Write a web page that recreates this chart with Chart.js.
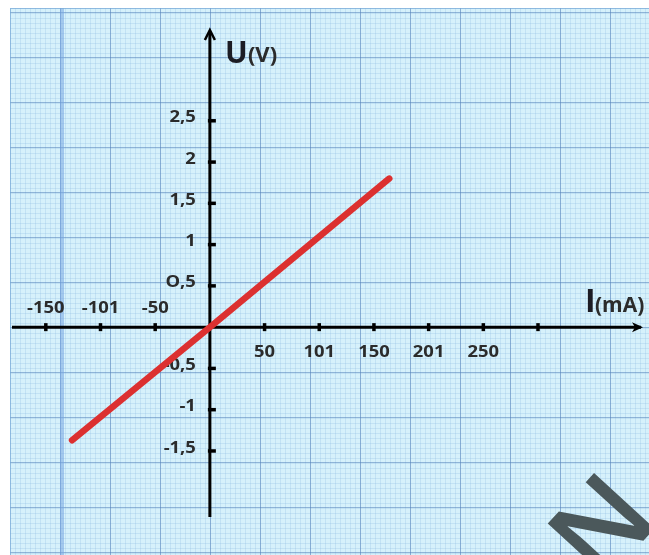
<!DOCTYPE html>
<html>
<head>
<meta charset="utf-8">
<script src="https://cdn.jsdelivr.net/npm/chart.js@4"></script>
<style>
  html, body { margin: 0; padding: 0; background: #fff; }
  canvas { display: block; }
</style>
</head>
<body>
<canvas id="uiChart" width="649" height="555"></canvas>
<script>
// I (mA) vs U (V) measured on the resistor
const currentMA = [-126, 0, 164];
const voltageV = [-1.37, 0, 1.8];

// graduations drawn on the axes
const xTicks = [-150, -100, -50, 50, 100, 150, 200, 250, 300];
const xTickText = ['-150', '-101', '-50', '50', '101', '150', '201', '250', ''];
const yTicks = [2.5, 2, 1.5, 1, 0.5, -0.5, -1, -1.5];
const yTickText = ['2,5', '2', '1,5', '1', 'O,5', '-0,5', '-1', '-1,5'];

const labelFont = '700 16px "Open Sans"';
const labelColor = '#2b2b2b';

// millimetre paper behind everything
const paperPlugin = {
  id: 'paper',
  beforeDraw(chart) {
    const ctx = chart.ctx;
    const W = chart.width, H = chart.height;
    const x0 = 10, y0 = 8;
    ctx.save();
    ctx.fillStyle = '#fff';
    ctx.fillRect(0, 0, W, H);
    ctx.fillStyle = '#d6f1fb';
    ctx.fillRect(x0, y0, W - x0, H - y0);

    ctx.lineWidth = 1;
    ctx.strokeStyle = 'rgba(135,185,225,0.25)';
    ctx.beginPath();
    for (let x = x0 + 0.5; x < W; x += 5) { ctx.moveTo(x, y0); ctx.lineTo(x, H); }
    for (let y = y0 + 0.5; y < H; y += 5) { ctx.moveTo(x0, y); ctx.lineTo(W, y); }
    ctx.stroke();

    ctx.strokeStyle = 'rgba(85,130,185,0.55)';
    ctx.beginPath();
    for (let x = 60.5; x < W; x += 50) { ctx.moveTo(x, y0); ctx.lineTo(x, H); }
    for (let y = 12.5; y < H; y += 45) { ctx.moveTo(x0, y); ctx.lineTo(W, y); }
    ctx.stroke();

    // thick blue rule near the left edge
    ctx.fillStyle = 'rgba(120,165,225,0.55)';
    ctx.fillRect(60, y0, 4, H - y0);

    // paper border
    ctx.strokeStyle = 'rgba(120,170,215,0.7)';
    ctx.strokeRect(x0 + 0.5, y0 + 0.5, W - x0, H - y0);
    ctx.restore();
  }
};

// axes through the origin, graduations and titles
const axesPlugin = {
  id: 'axes',
  beforeDatasetsDraw(chart) {
    const { ctx, chartArea: area, scales: { x, y } } = chart;
    const ox = x.getPixelForValue(0);
    const oy = y.getPixelForValue(0);
    ctx.save();
    ctx.strokeStyle = '#000';
    ctx.fillStyle = '#000';
    ctx.lineWidth = 3;
    ctx.lineCap = 'butt';

    // horizontal axis + arrow
    ctx.beginPath();
    ctx.moveTo(area.left - 1, oy);
    ctx.lineTo(area.right - 2, oy);
    ctx.stroke();
    ctx.beginPath();
    ctx.moveTo(area.right - 11, oy - 5);
    ctx.lineTo(area.right, oy);
    ctx.lineTo(area.right - 11, oy + 5);
    ctx.lineTo(area.right - 8, oy);
    ctx.closePath();
    ctx.fill();

    // vertical axis + arrow
    ctx.beginPath();
    ctx.moveTo(ox, area.bottom);
    ctx.lineTo(ox, area.top + 2);
    ctx.stroke();
    ctx.lineWidth = 2.5;
    ctx.beginPath();
    ctx.moveTo(ox - 5, area.top + 10);
    ctx.lineTo(ox, area.top);
    ctx.lineTo(ox + 5, area.top + 10);
    ctx.stroke();

    // graduations
    ctx.lineWidth = 3.5;
    xTicks.forEach(v => {
      const px = x.getPixelForValue(v);
      ctx.beginPath();
      ctx.moveTo(px, oy - 4);
      ctx.lineTo(px, oy + 4);
      ctx.stroke();
    });
    yTicks.forEach(v => {
      const py = y.getPixelForValue(v);
      ctx.beginPath();
      ctx.moveTo(ox - 2, py);
      ctx.lineTo(ox + 6, py);
      ctx.stroke();
    });

    // tick labels: negatives above the I axis, positives below
    ctx.font = labelFont;
    ctx.fillStyle = labelColor;
    ctx.textBaseline = 'middle';
    ctx.textAlign = 'center';
    xTicks.forEach((v, i) => {
      const px = x.getPixelForValue(v);
      const py = v < 0 ? oy - 19 : oy + 25;
      ctx.save();
      ctx.translate(px, py);
      ctx.scale(1.15, 1);
      ctx.fillText(xTickText[i], 0, 0);
      ctx.restore();
    });
    ctx.textAlign = 'right';
    yTicks.forEach((v, i) => {
      const py = y.getPixelForValue(v);
      ctx.save();
      ctx.translate(ox - 14, py - 3);
      ctx.scale(1.15, 1);
      ctx.fillText(yTickText[i], 0, 0);
      ctx.restore();
    });

    // axis titles
    ctx.textAlign = 'left';
    ctx.textBaseline = 'alphabetic';
    ctx.fillStyle = '#1c1c24';
    ctx.font = '700 30px "Open Sans"';
    ctx.fillText('U', ox + 15, area.top + 33);
    ctx.fillStyle = labelColor;
    ctx.font = '700 22px "Open Sans"';
    ctx.fillText('(V)', ox + 38, area.top + 32);

    ctx.fillStyle = '#1c1c24';
    ctx.font = '700 32px "Open Sans"';
    ctx.fillText('I', area.right - 58, oy - 15);
    ctx.fillStyle = labelColor;
    ctx.font = '700 21px "Open Sans"';
    ctx.fillText('(mA)', area.right - 48, oy - 15);
    ctx.restore();
  },
  afterDraw(chart) {
    // watermark letter in the corner
    const ctx = chart.ctx;
    ctx.save();
    ctx.translate(601, 587);
    ctx.rotate(-47.5 * Math.PI / 180);
    ctx.fillStyle = '#4b585b';
    ctx.font = '600 115px "Open Sans"';
    ctx.textBaseline = 'alphabetic';
    ctx.textAlign = 'left';
    ctx.fillText('N', 0, 0);
    ctx.restore();
  }
};

new Chart(document.getElementById('uiChart'), {
  type: 'scatter',
  data: {
    datasets: [{
      label: 'U = f(I)',
      data: currentMA.map((c, i) => ({ x: c, y: voltageV[i] })),
      showLine: true,
      borderColor: '#dc3030',
      borderWidth: 6.5,
      borderCapStyle: 'round',
      pointRadius: 0,
      tension: 0
    }]
  },
  options: {
    responsive: false,
    animation: false,
    devicePixelRatio: 1,
    layout: { padding: { left: 13, right: 6, top: 30, bottom: 38 } },
    plugins: {
      legend: { display: false },
      tooltip: { enabled: false }
    },
    scales: {
      x: { type: 'linear', min: -180, max: 396, display: false },
      y: { type: 'linear', min: -2.3, max: 3.6, display: false }
    }
  },
  plugins: [paperPlugin, axesPlugin]
});
</script>
</body>
</html>
